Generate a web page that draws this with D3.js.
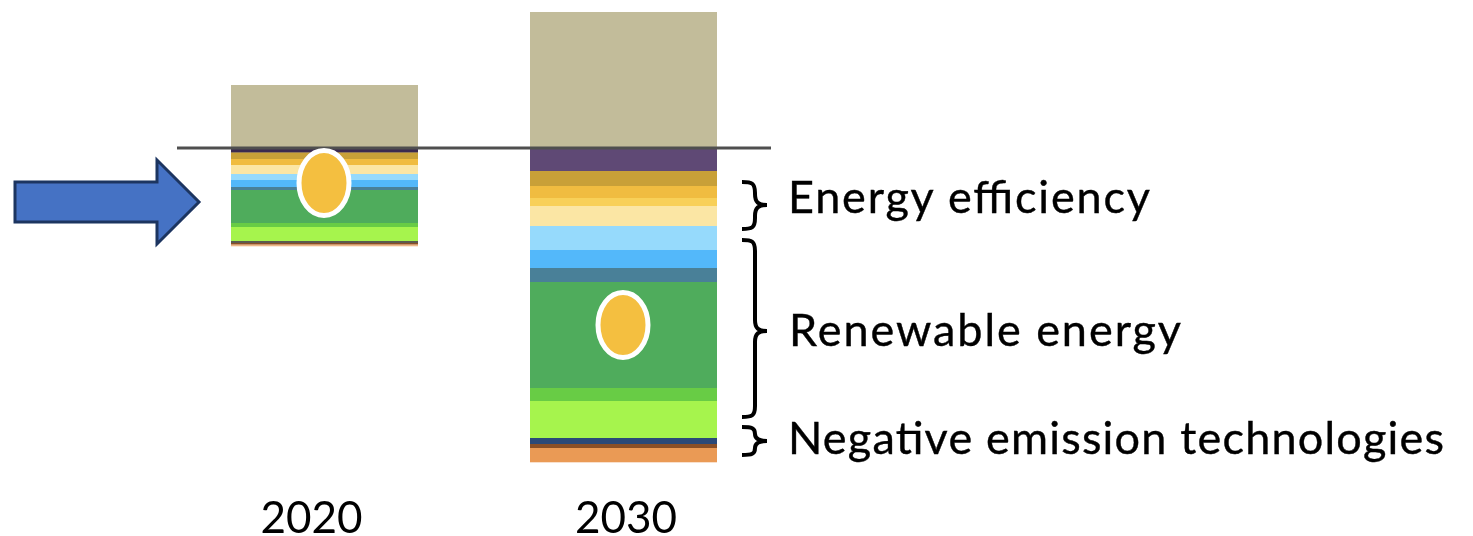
<!DOCTYPE html>
<html><head><meta charset="utf-8"><script src="https://cdn.jsdelivr.net/npm/d3@7"></script>
<style>html,body{margin:0;background:#fff}svg{display:block}</style></head>
<body><svg id="c" width="1473" height="536"></svg>
<script>
const years = ["2020","2030"];
const layerColors = ["#c2bc9a","#5e4a75","#c8a038","#f0bc40","#f8d058","#fbe6a4","#96dafc","#52b8fa","#4a8098","#4fac5c","#68cc44","#a6f44e","#2c4878","#8a5028","#ea9a54","#3a2c50","#5c5a50","#eeb888"];
const above2020 = [6.3];
const above2030 = [13.6];
const below2020 = [0.45,0.65,0.6,0.9,0.6,0.7,0.3,3.3,0.4,1.4,0.2,0.15,0.15];
const below2020Layers = [15,2,3,5,6,7,8,9,10,11,16,13,17];
const below2030 = [2.3,1.5,1.2,0.8,2.0,2.4,1.8,1.4,10.6,1.3,3.7,0.6,0.4,1.4];
const below2030Layers = [1,2,3,4,5,6,7,8,9,10,11,12,13,14];
const groupLabels = ["Energy efficiency","Renewable energy","Negative emission technologies"];

const svg = d3.select("#c");
const defs = svg.append("defs");
function blur(id,sd){
  defs.append("filter").attr("id",id).attr("filterUnits","userSpaceOnUse")
    .attr("x",0).attr("y",0).attr("width",1473).attr("height",536)
    .append("feGaussianBlur").attr("stdDeviation",sd);
}
blur("soft",0.6);
blur("softer",0.35);

const x = d3.scaleBand().domain(years).range([231,717]).paddingInner(112/299).paddingOuter(0);
const y = d3.scaleLinear().domain([-31.4,13.6]).range([462,12]);

const bars = svg.append("g").attr("filter","url(#soft)");
function stack(year, top, vals, layers){
  bars.append("rect").attr("x",x(year)).attr("width",x.bandwidth())
    .attr("y",y(top)).attr("height",y(0)-y(top)).attr("fill",layerColors[0]);
  let acc=0;
  vals.forEach((v,i)=>{
    bars.append("rect").attr("x",x(year)).attr("width",x.bandwidth())
      .attr("y",y(acc)).attr("height",y(acc-v)-y(acc)+0.3).attr("fill",layerColors[layers[i]]);
    acc-=v;
  });
}
stack("2020",above2020[0],below2020,below2020Layers);
stack("2030",above2030[0],below2030,below2030Layers);

svg.append("line").attr("x1",177).attr("x2",771).attr("y1",y(0)).attr("y2",y(0))
  .attr("stroke","#505050").attr("stroke-width",3).attr("filter","url(#softer)");

[["2020",183],["2030",325]].forEach(([yr,cy])=>{
  svg.append("ellipse").attr("cx",x(yr)+x.bandwidth()/2-0.5).attr("cy",cy).attr("rx",25).attr("ry",32.5)
    .attr("fill","#f4bf40").attr("stroke","#fff").attr("stroke-width",5).attr("filter","url(#softer)");
});

svg.append("path").attr("d","M15,182H157V160L199,202L157,244V222H15Z")
  .attr("fill","#4472c4").attr("stroke","#1d3461").attr("stroke-width",3).attr("filter","url(#softer)");

function brace(t,m,b){
  const a=742,s=755,tip=767,r=Math.min(11,(b-t)/4);
  return `M${a},${t}C${s-3},${t} ${s},${t+1} ${s},${t+r}V${m-r}C${s},${m-3} ${s+3},${m} ${tip},${m}C${s+3},${m} ${s},${m+3} ${s},${m+r}V${b-r}C${s},${b-1} ${s-3},${b} ${a},${b}`;
}
[[182,205,229],[240,331,417],[427,441,455]].forEach(d=>{
  svg.append("path").attr("d",brace(...d)).attr("fill","none").attr("stroke","#000").attr("stroke-width",4).attr("filter","url(#softer)");
});

const font="Lato, 'Open Sans', sans-serif";
[[788,213,362],[789,346,392],[788,454,656]].forEach(([tx,ty,len],i)=>{
  svg.append("text").attr("x",tx).attr("y",ty).attr("font-family",font).attr("font-size",45)
    .attr("textLength",len).attr("lengthAdjust","spacing").attr("fill","#000")
    .attr("stroke","#000").attr("stroke-width",0.4).attr("filter","url(#softer)").text(groupLabels[i]);
});
[[-13],[2.5]].forEach(([dx],i)=>{
  svg.append("text").attr("x",x(years[i])+x.bandwidth()/2+dx).attr("y",533).attr("text-anchor","middle")
    .attr("font-family",font).attr("font-size",44).attr("fill","#000").attr("filter","url(#softer)").text(years[i]);
});
</script></body></html>
